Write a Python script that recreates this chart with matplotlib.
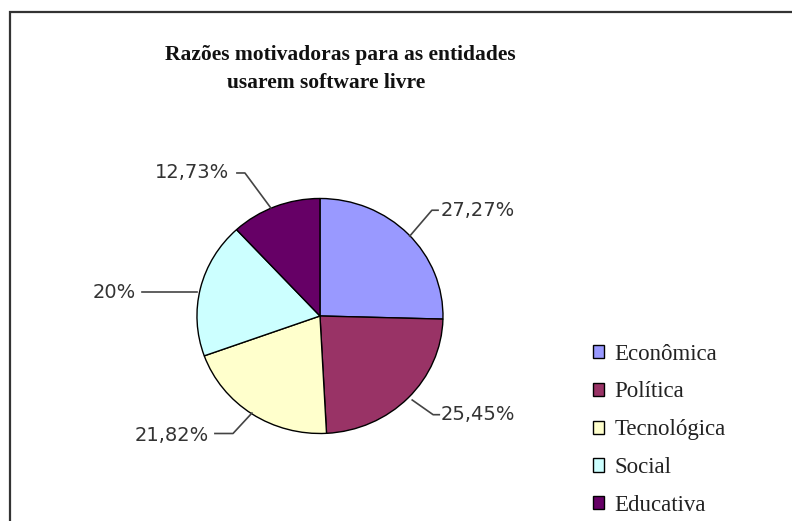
import matplotlib.pyplot as plt
from matplotlib.patches import Rectangle

# Razões motivadoras (respostas múltiplas de 55 entidades)
categorias = ['Econômica', 'Política', 'Tecnológica', 'Social', 'Educativa']
valores = [15, 14, 12, 11, 7]
n_entidades = 55
cores = ['#9999FF', '#993366', '#FFFFCC', '#CCFFFF', '#660066']

rotulos = []
for v in valores:
    s = f"{v / n_entidades * 100:.2f}".rstrip('0').rstrip('.')
    rotulos.append(s.replace('.', ',') + '%')

fig = plt.figure(figsize=(7.92, 5.21), dpi=100)

# moldura (só aparecem o topo e a esquerda)
fig.add_artist(Rectangle((9.5 / 792, -0.1), 1.2, 1.1 - 12 / 521,
                         transform=fig.transFigure, fill=False,
                         edgecolor='#333333', linewidth=1.6))

fig.text(340 / 792, 1 - 55 / 521, 'Razões motivadoras para as entidades',
         ha='center', va='center', fontsize=15.5, fontweight='bold',
         family='Liberation Serif', color='#111111')
fig.text(326 / 792, 1 - 83 / 521, 'usarem software livre',
         ha='center', va='center', fontsize=15.5, fontweight='bold',
         family='Liberation Serif', color='#111111')

ax = fig.add_axes([0.2021, 0.1003, 0.4038, 0.5864])
wedges, _ = ax.pie(valores, colors=cores, startangle=90, counterclock=False,
                   wedgeprops=dict(edgecolor='black', linewidth=1))
ax.set_xlim(-1.3, 1.3)
ax.set_ylim(-1.3, 1.3)
ax.set_aspect('auto')
ax.axis('off')

# linhas de chamada: ponto na borda, cotovelo, fim, posição do texto, alinhamento
chamadas = [
    ((0.73, 0.68), (0.91, 0.90), (0.96, 0.90), (0.98, 0.90), 'left'),
    ((0.75, -0.715), (0.92, -0.84), (0.97, -0.84), (0.98, -0.84), 'left'),
    ((-0.553, -0.826), (-0.707, -1.0), (-0.854, -1.0), (-0.90, -1.02), 'right'),
    ((-1.0, 0.204), (-1.447, 0.204), (-1.447, 0.204), (-1.50, 0.20), 'right'),
    ((-0.40, 0.92), (-0.61, 1.217), (-0.675, 1.217), (-0.74, 1.217), 'right'),
]
for rot, (p0, p1, p2, pt, ha) in zip(rotulos, chamadas):
    ax.plot([p0[0], p1[0], p2[0]], [p0[1], p1[1], p2[1]], color='#444444',
            linewidth=1.2, clip_on=False)
    ax.text(pt[0], pt[1], rot, ha=ha, va='center', fontsize=14,
            family='DejaVu Sans', color='#333333')

leg = fig.legend(wedges, categorias, loc='upper left',
                 bbox_to_anchor=(572 / 792, 1 - 323 / 521), frameon=False,
                 prop={'family': 'Liberation Serif', 'size': 16.5},
                 handlelength=0.5, handleheight=0.5, handletextpad=0.45,
                 labelspacing=0.735, labelcolor='#222222')

plt.savefig('out.png', dpi=100)
